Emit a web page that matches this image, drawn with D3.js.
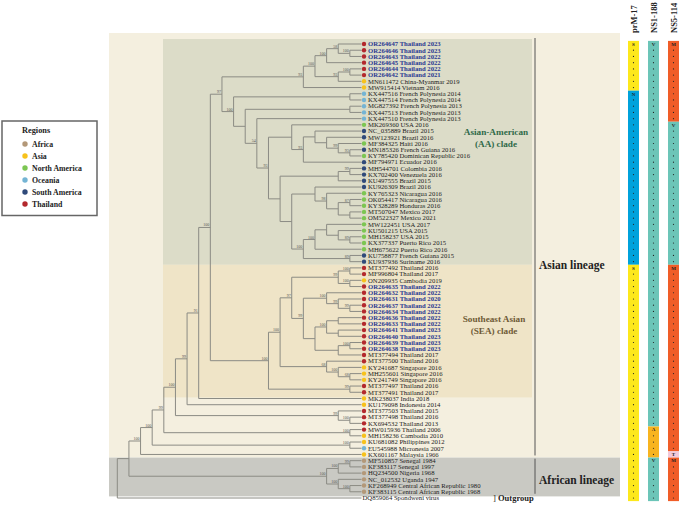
<!DOCTYPE html>
<html><head><meta charset="utf-8">
<script src="https://cdn.jsdelivr.net/npm/d3@7"></script>
<style>body{margin:0;background:#fff}svg{display:block}text{font-family:"Liberation Serif","Times New Roman",serif}</style>
</head><body><svg id="c" width="685" height="505"></svg>
<script>
// ---------- DATA ----------
const accessions = ["OR264647","OR264646","OR264643","OR264645","OR264644","OR264642","MN611472","MW915414",
"KX447516","KX447514","MG827392","KX447513","KX447510","MK269360","NC_035889","MW123921","MF384325","MN185326",
"KY785420","MF794971","MH544701","KX702400","KU497555","KU926309","KY765323","OK054417","KY328289","MT507047",
"OM522327","MW122451","KU501215","MH158237","KX377337","MH675622","KU758877","KU937936",
"MT377492","MF996804","ON209935","OR264635","OR264632","OR264631","OR264637","OR264634","OR264636","OR264633",
"OR264641","OR264640","OR264639","OR264638","MT377494","MT377500","KY241687","MH255601","KY241749","MT377497","MT377491",
"MK238037","KU179098","MT377503","MT377498","KX694532","MW015936","MH158236","KU681082","EU545988","KX601167",
"MF510857","KF383117","HQ234500","NC_012532","KF268949","KF383115","DQ859064"];
const places = ["Thailand 2023","Thailand 2023","Thailand 2022","Thailand 2022","Thailand 2022","Thailand 2021","China-Myanmar 2019","Vietnam 2016",
"French Polynesia 2014","French Polynesia 2014","French Polynesia 2013","French Polynesia 2013","French Polynesia 2013","USA 2016","Brazil 2015","Brazil 2016","Haiti 2016","French Guiana 2016",
"Dominican Republic 2016","Ecuador 2016","Colombia 2016","Venezuela 2016","Brazil 2015","Brazil 2016","Nicaragua 2016","Nicaragua 2016","Honduras 2016","Mexico 2017",
"Mexico 2021","USA 2017","USA 2015","USA 2015","Puerto Rico 2015","Puerto Rico 2016","French Guiana 2015","Suriname 2016",
"Thailand 2016","Thailand 2017","Cambodia 2019","Thailand 2022","Thailand 2022","Thailand 2020","Thailand 2022","Thailand 2022","Thailand 2022","Thailand 2022",
"Thailand 2023","Thailand 2023","Thailand 2023","Thailand 2023","Thailand 2017","Thailand 2016","Singapore 2016","Singapore 2016","Singapore 2016","Thailand 2016","Thailand 2017",
"India 2018","Indonesia 2014","Thailand 2015","Thailand 2016","Thailand 2013","Thailand 2006","Cambodia 2010","Philippines 2012","Micronesia 2007","Malaysia 1966",
"Senegal 1984","Senegal 1997","Nigeria 1968","Uganda 1947","Central African Republic 1980","Central African Republic 1968","Spondweni virus"];
const regions = ["TH","TH","TH","TH","TH","TH","AS","AS",
"OC","OC","OC","OC","OC","NA","SA","SA","NA","SA","NA","SA","SA","SA","SA","SA","NA","NA","NA","NA","NA","NA","NA","NA","NA","NA","SA","SA",
"TH","TH","AS","TH","TH","TH","TH","TH","TH","TH","TH","TH","TH","TH","TH","TH","AS","AS","AS","TH","TH",
"AS","AS","TH","TH","TH","TH","AS","AS","OC","AS",
"AF","AF","AF","AF","AF","AF",""];
const legendNames = ["Africa","Asia","North America","Oceania","South America","Thailand"];
const legendCodes = ["AF","AS","NA","OC","SA","TH"];
const regionColors = ["#b39878","#f7c21b","#7cc652","#74b4d4","#2f4a7a","#b3282d"];

// topology: leaves are row numbers, internal labels are bootstrap@level
const aaTop = "((((1,(2,3)100@20)58@19,4)100@18,((5,6)100@20,7)93@19)100@17,8)93@16";
const aaP   = "(14,((15,(16,(17,(18,19)93@20)99@19)@18)@17,20)93@16)@15";
const aaQ   = "(((21,22)99@20,23)@19,((24,(25,((26,27)87@20,(28,29)@20)@19)98@18)@17,(((30,(31,(32,33)89@20)@19)@18,34)100@17,(35,36)89@20)100@16)@15)@14";
const aaI   = `((9,10)@20,((11,12)@20,(13,(${aaP},${aaQ})93@13)54@12)@11)100@10`;
const aaClade = `(${aaTop},${aaI})97@9`;
const seaN484 = "(((37,38)100@20,(39,40)100@20)99@19,((41,(42,(43,44)99@20)99@19)100@18,(((45,46)@19,(47,48)@19)100@18,((49,50)100@20,51)@19)@17)99@16)97@15";
const seaClade = `((${seaN484},(52,(53,(54,55)68@20)100@19)68@18)100@14,(56,57)99@20)100@13`;
const asian = `(((((((${aaClade},${seaClade})100@8,58)91@7,59)99@6,(60,(61,62)100@20)99@19)100@5,(63,64)100@20)99@4,(65,66)100@20)100@3,67)100@2`;
const african = "(((68,69)99@20,70)100@19,(71,(72,73)100@20)100@19)100@18";
const treeNewick = `((${asian},${african})@1,74)@0`;

const prM17 = [["S",1,8],["N",9,36],["S",37,74]];
const ns1_188 = [["V",1,62],["A",63,67],["V",68,74]];
const ns5_114 = [["M",1,13],["V",14,36],["M",37,66],["T",67,67],["M",68,74]];
const siteNames = ["prM-17","NS1-188","NS5-114"];
const residueColors = {S:"#fde81c",N:"#00a2dc",V:"#6cc5b8",A:"#f8b41f",M:"#f05d28",T:"#f2c8da"};

// ---------- DRAW ----------
const svg = d3.select("#c");
const rowY = d3.scaleLinear().domain([0, accessions.length-1]).range([44, 498]);
const levelX = d3.scaleLinear().domain([0, 21]).range([117.3, 361.5]);
const half = (rowY(1)-rowY(0))/2;

// backgrounds
svg.append("rect").attr("x",109).attr("y",33).attr("width",511).attr("height",rowY(66)+half-33).attr("fill","#f4efdf");
svg.append("rect").attr("x",163).attr("y",39).attr("width",369).attr("height",rowY(35)+half-39).attr("fill","#dcdcc8");
svg.append("rect").attr("x",163).attr("y",rowY(35)+half).attr("width",369).attr("height",rowY(56)+half+2-(rowY(35)+half)).attr("fill","#efe4c7");
svg.append("rect").attr("x",109).attr("y",rowY(66)+half).attr("width",511).attr("height",rowY(72)+half+1.5-(rowY(66)+half)).attr("fill","#c9c9c3");

// lineage brackets
svg.append("line").attr("x1",535).attr("x2",535).attr("y1",38).attr("y2",rowY(66)+1).attr("stroke","#555").attr("stroke-width",1);
svg.append("line").attr("x1",535).attr("x2",535).attr("y1",rowY(67)-2).attr("y2",rowY(72)+2).attr("stroke","#555").attr("stroke-width",1);
svg.append("text").attr("x",539).attr("y",269).attr("font-size",11.5).attr("font-weight","bold").attr("fill","#222").text("Asian lineage");
svg.append("text").attr("x",539).attr("y",484).attr("font-size",11.5).attr("font-weight","bold").attr("fill","#222").text("African lineage");
svg.append("text").attr("x",493).attr("y",rowY(73)+3).attr("font-size",8.5).attr("fill","#222").text("]");
svg.append("text").attr("x",498).attr("y",rowY(73)+3).attr("font-size",8.5).attr("font-weight","bold").attr("fill","#222").text("Outgroup");

// clade labels
const aaLab = svg.append("text").attr("font-size",9.2).attr("font-weight","bold").attr("fill","#2f6a49").attr("text-anchor","middle");
aaLab.append("tspan").attr("x",496).attr("y",135).text("Asian-American");
aaLab.append("tspan").attr("x",496).attr("y",147).text("(AA) clade");
const seaLab = svg.append("text").attr("font-size",9.2).attr("font-weight","bold").attr("fill","#6e5a36").attr("text-anchor","middle");
seaLab.append("tspan").attr("x",494).attr("y",322).text("Southeast Asian");
seaLab.append("tspan").attr("x",494).attr("y",333.5).text("(SEA) clade");

// tree
function parseNewick(str){
  const s = str.replace(/\s+/g,""); let i = 0;
  function node(){
    const n = {};
    if (s[i] === "("){
      i++; n.children = [];
      while (i < s.length){ n.children.push(node()); if (s[i] === ","){ i++; continue; } i++; break; }
      let lab = ""; while (i < s.length && s[i] !== "," && s[i] !== ")") lab += s[i++];
      const p = lab.split("@"); n.boot = p[0]; n.level = +p[1];
    } else {
      let num = ""; while (i < s.length && /[0-9]/.test(s[i])) num += s[i++];
      n.leaf = +num - 1;
    }
    return n;
  }
  return node();
}
const root = d3.hierarchy(parseNewick(treeNewick));
root.eachAfter(d => {
  if (d.children){ d.y = (d.children[0].y + d.children[d.children.length-1].y)/2; d.x = levelX(d.data.level); }
  else { d.y = rowY(d.data.leaf); d.x = levelX(21); }
});
const g = svg.append("g").attr("stroke","#8b8b84").attr("stroke-width",1).attr("fill","none");
root.each(d => {
  if (d.children){
    g.append("line").attr("x1",d.x).attr("x2",d.x).attr("y1",d.children[0].y).attr("y2",d.children[d.children.length-1].y);
  }
  if (d.parent){
    g.append("line").attr("x1",d.parent.x).attr("x2",d.x).attr("y1",d.y).attr("y2",d.y);
  }
});
svg.append("g").selectAll("text").data(root.descendants().filter(d => d.children && d.data.boot)).join("text")
  .attr("x", d => d.x - 1).attr("y", d => d.y - 1).attr("text-anchor","end")
  .attr("font-size",4).attr("fill","#555").text(d => d.data.boot);

// leaves
const leaves = root.leaves();
svg.append("g").selectAll("circle").data(leaves.filter(d => regions[d.data.leaf])).join("circle")
  .attr("cx", 364).attr("cy", d => d.y).attr("r", 2.2)
  .attr("fill", d => regionColors[legendCodes.indexOf(regions[d.data.leaf])]);
svg.append("g").selectAll("text").data(leaves).join("text")
  .attr("x", d => regions[d.data.leaf] ? 368 : 362.5).attr("y", d => d.y + 2.3)
  .attr("font-size", 6.7)
  .attr("font-weight", d => accessions[d.data.leaf].startsWith("OR") ? "bold" : "normal")
  .attr("fill", d => accessions[d.data.leaf].startsWith("OR") ? "#2b3a92" : "#222")
  .text(d => accessions[d.data.leaf] + " " + places[d.data.leaf]);

// legend
svg.append("rect").attr("x",2).attr("y",121).attr("width",95).attr("height",94.5).attr("fill","#fff").attr("stroke","#666").attr("stroke-width",1.5);
svg.append("text").attr("x",22).attr("y",132.5).attr("font-size",8.3).attr("font-weight","bold").attr("fill","#222").text("Regions");
const lg = svg.append("g").selectAll("g").data(legendNames).join("g").attr("transform",(d,i)=>`translate(0,${144+i*12})`);
lg.append("circle").attr("cx",25).attr("cy",0).attr("r",2.7).attr("fill",(d,i)=>regionColors[i]);
lg.append("text").attr("x",32).attr("y",2.8).attr("font-size",7.8).attr("font-weight","bold").attr("fill","#222").text(d=>d);

// mutation columns
const sites = [prM17, ns1_188, ns5_114];
const colX = [628, 648, 668], colW = 11;
sites.forEach((segs, k) => {
  const cg = svg.append("g");
  segs.forEach(([res, a, b]) => {
    cg.append("rect").attr("x", colX[k]).attr("y", rowY(a-1)-half).attr("width", colW)
      .attr("height", rowY(b-1)-rowY(a-1)+2*half).attr("fill", residueColors[res]);
    cg.append("text").attr("x", colX[k]+colW/2).attr("y", rowY(a-1)+1.8).attr("text-anchor","middle")
      .attr("font-size",5).attr("font-weight","bold").attr("fill","#222").text(res);
    for (let r = a+1; r <= b; r++){
      cg.append("circle").attr("cx", colX[k]+colW/2).attr("cy", rowY(r-1)).attr("r",0.6).attr("fill","#222");
    }
  });
  svg.append("text").attr("transform",`translate(${colX[k]+colW/2+3},33) rotate(-90)`)
    .attr("font-size",8.5).attr("font-weight","bold").attr("fill","#222").text(siteNames[k]);
});
</script></body></html>
